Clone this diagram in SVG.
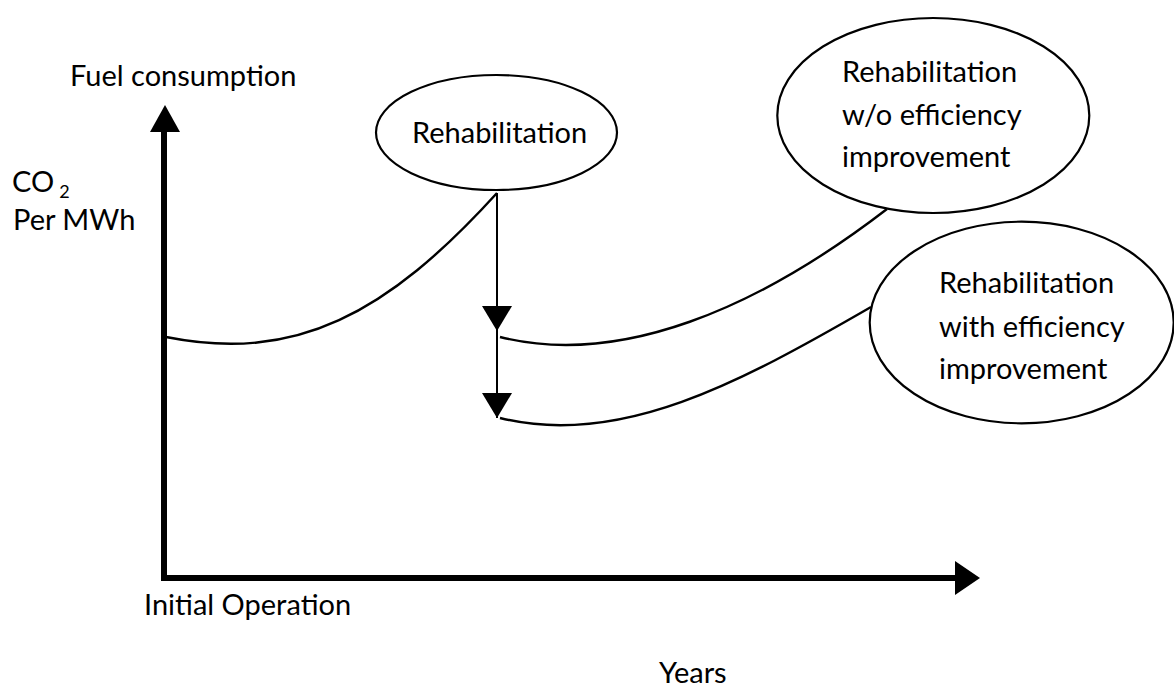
<svg xmlns="http://www.w3.org/2000/svg" width="1174" height="688" viewBox="0 0 1174 688">
  <style>
    text { font-family: Lato, "Open Sans", "Liberation Sans", sans-serif; font-size: 29px; fill: #000; }
    .node { fill: #fff; stroke: #000; stroke-width: 2.2; }
    .curve { fill: none; stroke: #000; stroke-width: 2.4; }
    .drop { fill: none; stroke: #000; stroke-width: 2; marker-end: url(#tri-down); }
    .axis { fill: none; stroke: #000; stroke-width: 6; stroke-linejoin: miter; stroke-linecap: square; }
  </style>
  <defs>
    <marker id="tri-down" markerUnits="userSpaceOnUse" markerWidth="32" markerHeight="28" viewBox="0 0 32 28" refX="16" refY="26" orient="0">
      <polygon points="1,1 31,1 16,26" fill="#000"/>
    </marker>
  </defs>
  <rect width="1174" height="688" fill="#fff"/>

  <g id="axes">
    <path class="axis" d="M164,130 L164,578 L956,578"/>
    <polygon points="150,132 180,132 165,105" fill="#000"/>
    <polygon points="955,561 955,595 980,578" fill="#000"/>
  </g>

  <g id="axis-labels">
    <text x="70" y="86">Fuel consumption</text>
    <text x="12" y="192">CO<tspan font-size="18" dx="5" dy="6">2</tspan></text>
    <text x="13" y="230">Per MWh</text>
    <text x="144" y="615">Initial Operation</text>
    <text x="659" y="683">Years</text>
  </g>

  <g id="connectors">
    <path class="curve" d="M166,337 C296,363 387,314 497,193"/>
    <path class="curve" d="M500,337 C620,367 757,309 887,209"/>
    <path class="curve" d="M500,418 C620,448 741,382 871,307"/>
    <line class="drop" x1="497" y1="193" x2="497" y2="331"/>
    <line class="drop" x1="497" y1="331" x2="497" y2="418"/>
  </g>

  <g id="node-rehabilitation">
    <ellipse class="node" cx="496.5" cy="132.5" rx="120.5" ry="57.5"/>
    <text x="412" y="143">Rehabilitation</text>
  </g>

  <g id="node-rehab-without">
    <ellipse class="node" cx="933.3" cy="115.5" rx="156" ry="97.5"/>
    <text x="842" y="82">Rehabilitation</text>
    <text x="842" y="125">w/o efficiency</text>
    <text x="842" y="167">improvement</text>
  </g>

  <g id="node-rehab-with">
    <ellipse class="node" cx="1021.7" cy="322.5" rx="152" ry="100.8"/>
    <text x="939" y="293">Rehabilitation</text>
    <text x="939" y="337">with efficiency</text>
    <text x="939" y="379">improvement</text>
  </g>
</svg>
